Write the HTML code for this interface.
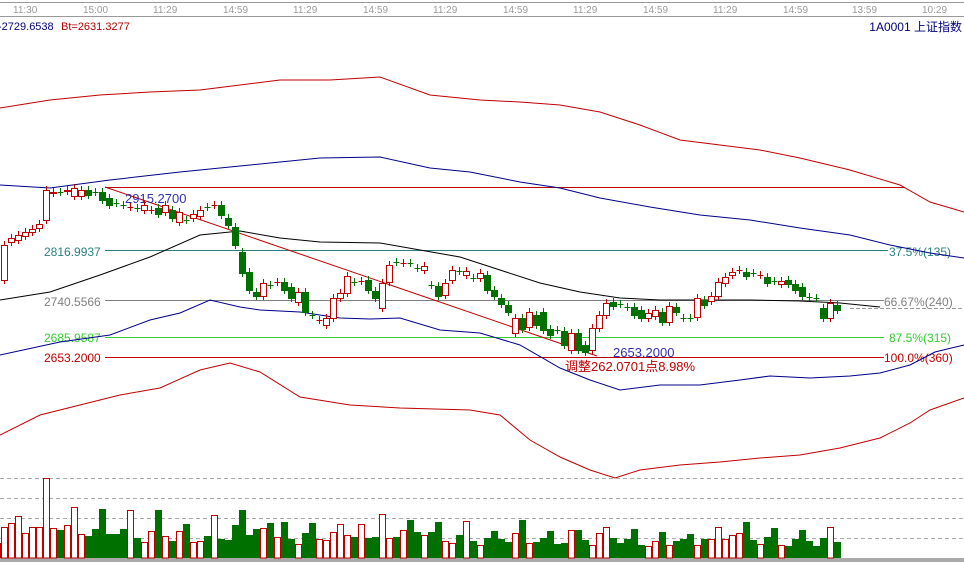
<!DOCTYPE html>
<html><head><meta charset="utf-8"><style>
html,body{margin:0;padding:0;background:#fff;width:964px;height:562px;overflow:hidden}
svg{display:block;font-family:"Liberation Sans","Noto Sans CJK SC",sans-serif}
</style></head><body>
<svg id="s" width="964" height="562" viewBox="0 0 964 562">
<rect width="964" height="562" fill="#fff"/>
<line x1="0" y1="2.5" x2="964" y2="2.5" stroke="#999"/>
<line x1="0" y1="16.5" x2="964" y2="16.5" stroke="#999"/>
<g font-size="10" fill="#999">
<text x="13" y="13">11:30</text><text x="83" y="13">15:00</text><text x="153" y="13">11:29</text><text x="223" y="13">14:59</text><text x="293" y="13">11:29</text><text x="363" y="13">14:59</text><text x="433" y="13">11:29</text><text x="503" y="13">14:59</text><text x="573" y="13">11:29</text><text x="643" y="13">14:59</text><text x="713" y="13">11:29</text><text x="783" y="13">14:59</text><text x="852" y="13">13:59</text><text x="922" y="13">10:29</text>
</g>
<text x="-2" y="30" font-size="11" fill="#000080">-2729.6538</text>
<text x="61" y="30" font-size="11" fill="#b00000">Bt=2631.3277</text>
<text x="962" y="31" font-size="12" fill="#000080" text-anchor="end">1A0001  上证指数</text>
<line x1="105" y1="187.5" x2="905" y2="187.5" stroke="#c00000"/>
<line x1="105" y1="250.5" x2="888" y2="250.5" stroke="#2a8080"/>
<line x1="105" y1="300.5" x2="884" y2="300.5" stroke="#808080"/>
<line x1="105" y1="337.5" x2="884" y2="337.5" stroke="#33cc33"/>
<line x1="105" y1="357.5" x2="884" y2="357.5" stroke="#c00000"/>
<line x1="850" y1="308.5" x2="964" y2="308.5" stroke="#999" stroke-dasharray="4,2"/>
<g font-size="12">
<text x="44" y="256" fill="#2a8080">2816.9937</text>
<text x="44" y="306" fill="#808080">2740.5566</text>
<text x="44" y="342" fill="#33cc33">2685.9587</text>
<text x="44" y="362" fill="#c00000">2653.2000</text>
<text x="889" y="256" fill="#2a8080">37.5%(135)</text>
<text x="884" y="306" fill="#808080">66.67%(240)</text>
<text x="889" y="342" fill="#33cc33">87.5%(315)</text>
<text x="884" y="362" fill="#c00000">100.0%(360)</text>
</g>
<polyline fill="none" stroke="#c00000" points="0,108 50,100 100,95 150,92 200,90 240,85 280,80 330,80 380,77 430,95 480,100 520,102 560,105 600,112 640,125 680,140 720,145 760,150 800,158 850,170 900,185 930,202 964,212"/>
<polyline fill="none" stroke="#00008b" points="0,185 50,188 110,180 180,172 250,165 320,158 380,157 430,168 470,172 520,182 560,188 600,198 650,207 700,215 750,220 800,228 850,235 890,245 930,253 964,258"/>
<polyline fill="none" stroke="#000" points="0,300 50,292 100,275 150,257 200,235 240,231 280,238 320,242 380,243 420,250 460,257 500,270 540,283 580,292 620,298 660,300 700,300 750,300 800,301 840,303 880,307"/>
<polyline fill="none" stroke="#00008b" points="0,355 60,342 110,335 150,320 180,313 210,300 240,307 260,310 300,312 340,318 370,319 400,318 440,330 480,333 520,345 560,368 590,380 620,390 660,385 700,385 740,380 770,376 810,378 850,376 880,373 910,365 935,352 964,345"/>
<polyline fill="none" stroke="#c00000" points="0,435 40,415 80,405 120,395 160,388 200,370 230,363 260,372 300,397 350,405 400,408 470,410 500,415 530,440 560,457 590,470 615,478 640,470 680,465 720,462 760,458 800,455 840,448 880,438 910,423 930,410 964,398"/>
<line x1="105" y1="187" x2="597" y2="356" stroke="#c00000"/>
<text x="125" y="203" font-size="13" fill="#3030b0">2915.2700</text>
<text x="613" y="357" font-size="13" fill="#3030b0">2653.2000</text>
<text x="565" y="371" font-size="13" fill="#c00000">调整262.0701点8.98%</text>
<g stroke="#aaa" stroke-dasharray="4,3">
<line x1="0" y1="478.5" x2="964" y2="478.5"/><line x1="0" y1="498.5" x2="964" y2="498.5"/><line x1="0" y1="518.5" x2="964" y2="518.5"/><line x1="0" y1="538.5" x2="964" y2="538.5"/>
</g>
<rect x="0" y="558" width="964" height="4" fill="#aaa"/>
<g id="c"></g>
</svg>
<script>
var C=[[280,245],[242,238],[240,235],[236,232],[232,229],[228,224],[220,190],[193,192],[192,192],[191,190],[196,188],[196,190],[190,195],[192,192],[192,200],[198,205],[203,203],[205,205],[207,207],[208,208],[210,205],[210,210],[208,214],[212,205],[210,218],[222,212],[220,220],[218,214],[216,210],[207,207],[205,205],[205,215],[218,225],[227,245],[252,273],[272,290],[292,296],[296,283],[285,285],[282,282],[282,290],[287,298],[302,292],[292,312],[315,315],[320,320],[325,318],[318,298],[298,293],[293,276],[282,282],[281,281],[280,290],[291,298],[308,283],[282,265],[262,262],[263,263],[263,263],[268,268],[270,266],[285,285],[286,296],[295,283],[280,270],[271,271],[275,271],[278,278],[278,273],[275,290],[290,296],[298,304],[305,312],[333,318],[318,329],[327,312],[315,325],[312,330],[329,335],[330,330],[331,345],[350,333],[333,350],[345,352],[350,328],[328,315],[315,303],[302,306],[304,304],[307,307],[307,315],[310,318],[318,313],[316,310],[312,322],[322,306],[307,312],[318,318],[318,318],[317,298],[300,305],[301,296],[296,282],[283,277],[275,272],[270,270],[272,276],[273,273],[275,275],[277,283],[281,281],[284,281],[280,284],[284,290],[287,296],[297,297],[298,298],[308,318],[318,303],[305,310]];
var V=[527,523,516,533,527,527,478,528,530,525,507,534,536,529,509,534,534,529,510,538,542,531,510,536,541,531,524,542,541,536,515,539,540,525,510,535,529,528,523,537,522,539,544,533,523,539,540,532,524,535,537,524,538,537,514,538,537,530,520,532,535,532,522,541,543,535,521,541,545,538,531,539,542,533,520,543,542,538,531,544,543,530,530,540,545,533,527,538,543,539,529,545,546,541,532,545,541,539,534,545,539,539,527,539,535,533,522,540,544,537,528,545,546,539,530,541,546,538,527,542,523];
var g=document.getElementById('c'),h='';
for(var i=0;i<C.length;i++){var x=4+i*7,o=C[i][0],c=C[i][1],up=c<o||(c==o&&i%3==0);
var col=up?'#c00000':'#007000';var t=Math.min(o,c),b=Math.max(o,c);
h+='<line x1="'+(x+.5)+'" y1="'+(t-4)+'" x2="'+(x+.5)+'" y2="'+(b+4)+'" stroke="'+col+'"/>';
if(b-t<1){h+='<line x1="'+(x-2.5)+'" y1="'+(t+.5)+'" x2="'+(x+3.5)+'" y2="'+(t+.5)+'" stroke="'+col+'"/>';}
else if(up){h+='<rect x="'+(x-2.5)+'" y="'+(t+.5)+'" width="6" height="'+(b-t)+'" fill="#fff" stroke="'+col+'"/>';}
else{h+='<rect x="'+(x-3)+'" y="'+t+'" width="7" height="'+(b-t+1)+'" fill="'+col+'"/>';}
var vy=V[i]||540;
if(up)h+='<rect x="'+(x-2.5)+'" y="'+(vy+.5)+'" width="6" height="'+(558-vy-.5)+'" fill="#fff" stroke="#c00000"/>';
else h+='<rect x="'+(x-3)+'" y="'+vy+'" width="7" height="'+(558-vy)+'" fill="#007000"/>';}
h+='<rect x="-2.5" y="543.5" width="3" height="14" fill="#fff" stroke="#c00000"/>';
g.innerHTML=h;
</script>
</body></html>
